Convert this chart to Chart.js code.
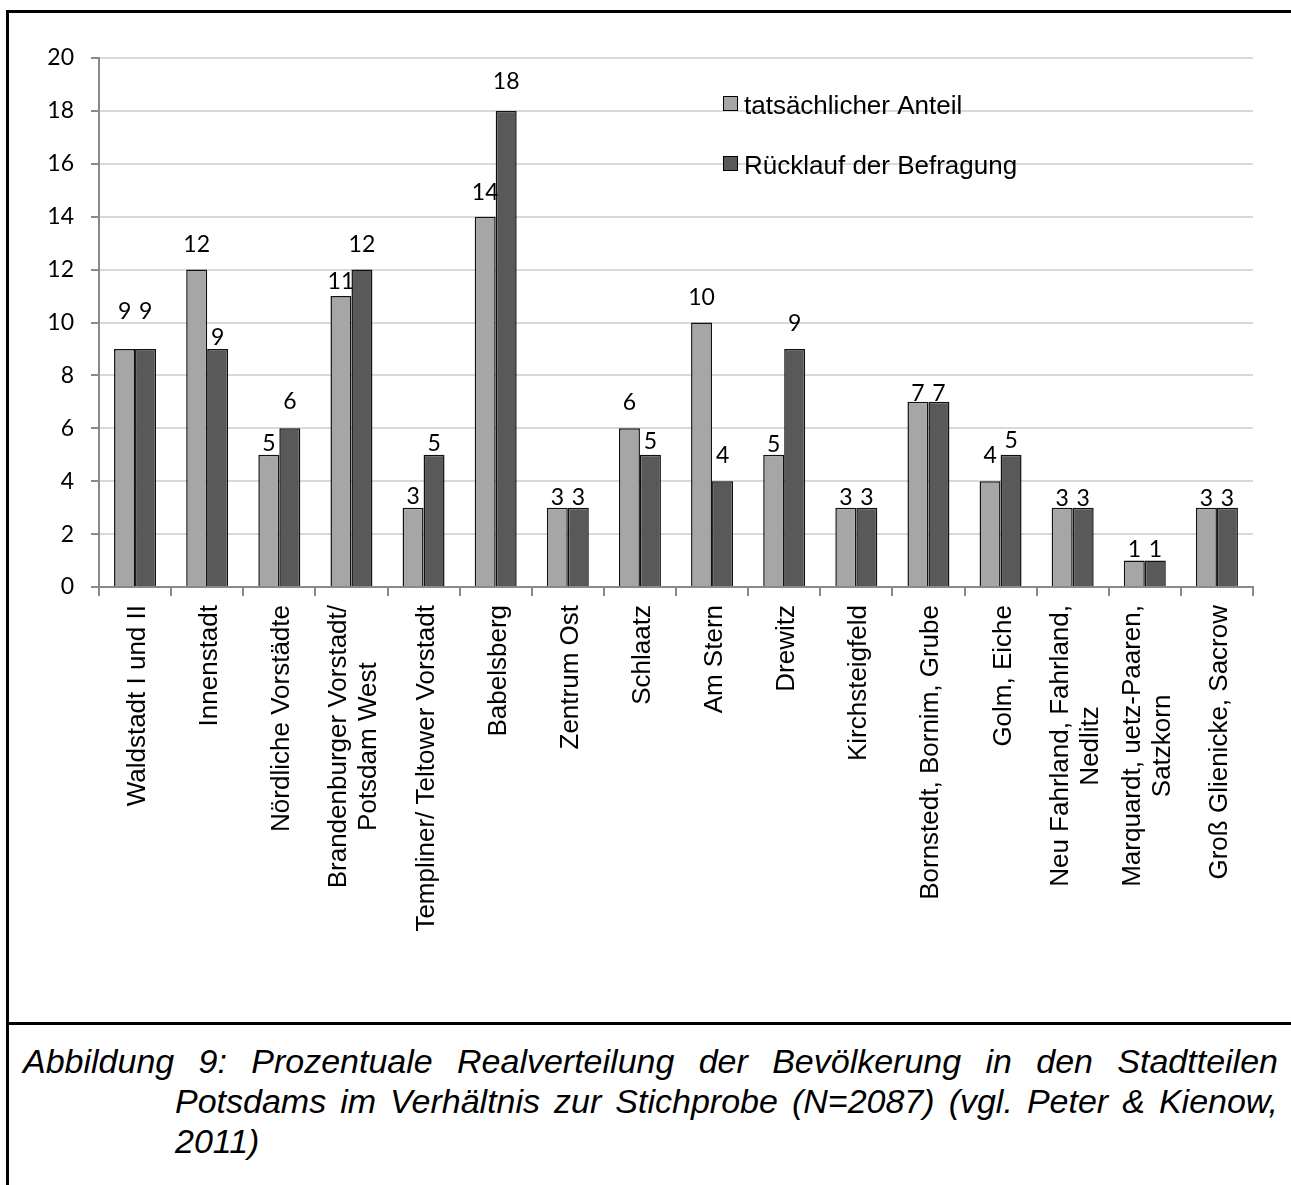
<!DOCTYPE html>
<html lang="de">
<head>
<meta charset="utf-8">
<title>Abbildung 9 - Realverteilung der Bevölkerung Potsdam</title>
<script src="https://cdn.jsdelivr.net/npm/chart.js@4.4.1/dist/chart.umd.min.js"></script>
<style>
    html, body { margin: 0; padding: 0; background: #fff; overflow: hidden; width: 1291px; height: 1185px; }
    .frame { position: absolute; left: 6px; top: 10px; width: 1400px; height: 1300px; border-left: 3px solid #000; border-top: 3px solid #000; }
    .divider { position: absolute; left: 6px; top: 1022px; width: 1400px; height: 3px; background: #000; }
    .chartbox { position: absolute; left: 9px; top: 13px; width: 1282px; height: 1009px; }
    .caption {
        position: absolute; left: 23px; top: 1041px; width: 1255px; box-sizing: border-box;
        padding-left: 152px; text-indent: -152px; text-align: justify;
        font: italic 34px/40px "Liberation Sans", Arial, sans-serif; color: #000;
    }
</style>
</head>
<body>
<div class="frame"></div>
<div class="chartbox"><canvas id="resultChart"></canvas></div>
<div class="divider"></div>
<div class="caption">Abbildung 9: Prozentuale Realverteilung der Bevölkerung in den Stadtteilen Potsdams im Verhältnis zur Stichprobe (N=2087) (vgl. Peter &amp; Kienow, 2011)</div>

<script>
// Stadtteile (Kategorien), mehrzeilige Beschriftungen als Arrays
const districts = [
    'Waldstadt I und II',
    'Innenstadt',
    'Nördliche Vorstädte',
    ['Brandenburger Vorstadt/', 'Potsdam West'],
    'Templiner/ Teltower Vorstadt',
    'Babelsberg',
    'Zentrum Ost',
    'Schlaatz',
    'Am Stern',
    'Drewitz',
    'Kirchsteigfeld',
    'Bornstedt, Bornim, Grube',
    'Golm, Eiche',
    ['Neu Fahrland, Fahrland,', 'Nedlitz'],
    ['Marquardt, uetz-Paaren,', 'Satzkorn'],
    'Groß Glienicke, Sacrow'
];

// Serien (Prozent)
const seriesNames = ['tatsächlicher Anteil', 'Rücklauf der Befragung'];
const actualShare  = [9, 12, 5, 11, 3, 14, 3, 6, 10, 5, 3, 7, 4, 3, 1, 3];
const surveyReturn = [9, 9, 6, 12, 5, 18, 3, 5, 4, 9, 3, 7, 5, 3, 1, 3];

// y-Achse
const yMin = 0;
const yMax = 20;
const yStep = 2;

// Abstand der Datenbeschriftung über dem Balken (px), wie im Original verschoben
const labelGapA = [30, 18, 4, 7, 4, 17, 3, 18, 18, 3, 3, 1, 18, 2, 4, 2];
const labelGapB = [30, 4, 19, 18, 4, 22, 3, 6, 18, 18, 3, 1, 7, 2, 4, 2];

const colors = ['#a6a6a6', '#595959'];
const axisGray = '#898989';
const labelFont = '26px "Liberation Sans", Arial, sans-serif';
const numberFont = 'Lato, "Open Sans", sans-serif';

// Datenbeschriftungen über den Balken
const valueLabels = {
    id: 'valueLabels',
    afterDatasetsDraw(chart) {
        const ctx = chart.ctx;
        const gaps = [labelGapA, labelGapB];
        ctx.save();
        ctx.font = '23px ' + numberFont;
        ctx.fillStyle = '#000';
        ctx.textAlign = 'center';
        ctx.textBaseline = 'alphabetic';
        chart.data.datasets.forEach((ds, d) => {
            chart.getDatasetMeta(d).data.forEach((bar, i) => {
                ctx.fillText(String(ds.data[i]), bar.x, bar.y - gaps[d][i]);
            });
        });
        ctx.restore();
    }
};

// Gedrehte Kategorienbeschriftung, Zeilen zentriert
const districtLabels = {
    id: 'districtLabels',
    afterDraw(chart) {
        const ctx = chart.ctx;
        const xScale = chart.scales.x;
        const top = xScale.top + 18;
        const lineHeight = 30;
        ctx.save();
        ctx.font = labelFont;
        ctx.fillStyle = '#000';
        ctx.textAlign = 'center';
        ctx.textBaseline = 'alphabetic';
        districts.forEach((label, i) => {
            const lines = Array.isArray(label) ? label : [label];
            const cx = xScale.getPixelForValue(i);
            const w = Math.max(...lines.map(l => ctx.measureText(l).width));
            ctx.save();
            ctx.translate(cx, top);
            ctx.rotate(-Math.PI / 2);
            lines.forEach((line, k) => {
                ctx.fillText(line, -w / 2, (k - (lines.length - 1) / 2) * lineHeight + 10);
            });
            ctx.restore();
        });
        ctx.restore();
    }
};

// Legende innerhalb der Zeichenfläche (oben rechts)
const insideLegend = {
    id: 'insideLegend',
    afterDraw(chart) {
        const ctx = chart.ctx;
        const area = chart.chartArea;
        const x0 = area.left + 624;
        const y0 = area.top + 38;
        ctx.save();
        ctx.font = labelFont;
        ctx.textAlign = 'left';
        ctx.textBaseline = 'alphabetic';
        seriesNames.forEach((name, i) => {
            const y = y0 + i * 60;
            ctx.fillStyle = colors[i];
            ctx.fillRect(x0, y, 15, 15);
            ctx.strokeStyle = '#000';
            ctx.lineWidth = 1;
            ctx.strokeRect(x0 + 0.5, y + 0.5, 14, 14);
            ctx.fillStyle = '#000';
            ctx.fillText(name, x0 + 21, y + 18);
        });
        ctx.restore();
    }
};

function drawChart() {
    const ctx = document.getElementById('resultChart').getContext('2d');
    const values = [actualShare, surveyReturn];

    new Chart(ctx, {
        type: 'bar',
        data: {
            labels: districts,
            datasets: seriesNames.map((name, i) => ({
                label: name,
                data: values[i],
                backgroundColor: colors[i],
                borderColor: '#111',
                borderWidth: 1.5,
                categoryPercentage: 0.582,
                barPercentage: 1
            }))
        },
        options: {
            responsive: true,
            maintainAspectRatio: false,
            animation: false,
            events: [],
            layout: { padding: { top: 45, right: 38, left: 0, bottom: 0 } },
            plugins: {
                legend: { display: false },
                tooltip: { enabled: false }
            },
            scales: {
                x: {
                    offset: true,
                    grid: {
                        offset: true,
                        drawOnChartArea: false,
                        drawTicks: true,
                        tickLength: 9,
                        tickColor: axisGray,
                        lineWidth: 2
                    },
                    border: { color: axisGray, width: 2 },
                    ticks: { display: false },
                    afterFit(scale) { scale.height = 435; }
                },
                y: {
                    min: yMin,
                    max: yMax,
                    ticks: {
                        stepSize: yStep,
                        padding: 17,
                        color: '#000',
                        font: { family: numberFont, size: 23 }
                    },
                    grid: {
                        color: '#d9d9d9',
                        lineWidth: 2,
                        tickColor: axisGray,
                        tickLength: 8
                    },
                    border: { color: axisGray, width: 2 },
                    afterFit(scale) { scale.width = 90; }
                }
            }
        },
        plugins: [valueLabels, districtLabels, insideLegend]
    });
}

drawChart();
</script>
</body>
</html>
